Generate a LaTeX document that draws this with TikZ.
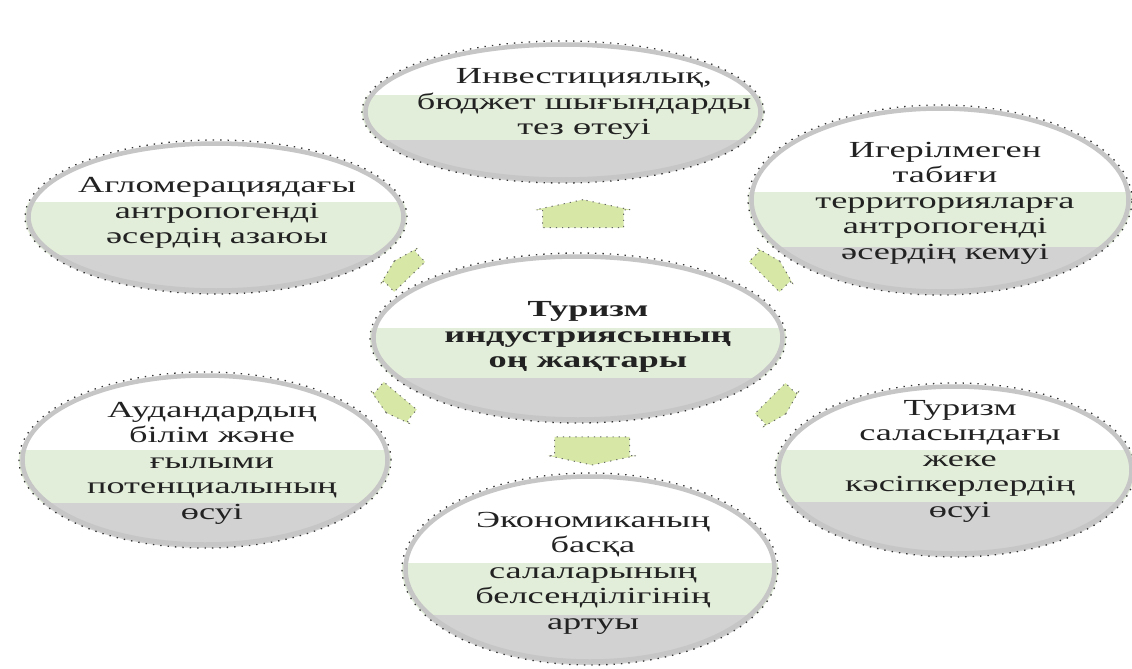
\documentclass[tikz,border=0pt]{standalone}
\usepackage{fontspec}
\newfontfamily\kz[FakeStretch=1.58]{Liberation Serif}
\usetikzlibrary{shapes.geometric,shapes.arrows}
\definecolor{bandgreen}{HTML}{E3EEDA}
\definecolor{bandgray}{HTML}{D2D2D2}
\definecolor{arrowgreen}{HTML}{D7E8A6}
\definecolor{ringgray}{HTML}{C6C6C6}
\definecolor{txtcol}{HTML}{222222}
\tikzset{
  bubbleshape/.style={ellipse, inner sep=0pt, outer sep=0pt, draw=black!80,
    line width=1.3pt, dash pattern=on 1.4pt off 6pt},
  txt/.style={font=\kz\fontsize{23}{25.5}\selectfont, align=center, text=txtcol, inner sep=0pt},
  conn/.style={single arrow, fill=arrowgreen, draw=black!60, line width=1pt,
    dash pattern=on 1.2pt off 5pt, inner xsep=0pt, outer sep=0pt},
  bigconn/.style={conn, inner ysep=40pt, single arrow head extend=7pt,
    single arrow tip angle=156, minimum height=28pt},
  smallconn/.style={conn, inner ysep=21pt, single arrow head extend=5pt,
    single arrow tip angle=150, minimum height=22pt}
}
% name, cx, cy, rx, ry, green top, gray top
\newcommand\mybubble[7]{%
  \begin{scope}
    \clip (#2,#3) ellipse [x radius=#4, y radius=#5];
    \fill[white] (#2-#4,#3-#5) rectangle (#2+#4,#3+#5);
    \fill[bandgreen] (#2-#4,#6) rectangle (#2+#4,#7);
    \fill[bandgray] (#2-#4,#7) rectangle (#2+#4,#3+#5);
  \end{scope}
  \draw[ringgray, line width=4.5pt] (#2,#3) ellipse [x radius=#4-3.5, y radius=#5-3.5];
  \node[bubbleshape, minimum width=2*#4, minimum height=2*#5] (#1) at (#2,#3) {};
}
\begin{document}
\begin{tikzpicture}[x=1pt,y=-1pt]
\useasboundingbox (0,0) rectangle (1132,669);
\fill[white] (0,0) rectangle (1132,669);

\mybubble{top}{563}{112}{201}{71}{95}{140}
\mybubble{ul}{216}{217}{191}{77}{202}{255}
\mybubble{ur}{940}{200}{192}{95}{192}{247}
\mybubble{mid}{578}{338}{208}{85}{328}{378}
\mybubble{ll}{205}{460}{186}{88}{450}{503}
\mybubble{lr}{955}{470}{180}{87}{450}{502}
\mybubble{bot}{590}{569}{188}{96}{563}{615}

\node[txt] (ttop) at (584,104) {Инвестициялық,\\бюджет шығындарды\\тез өтеуі};
\node[txt] (tul) at (217,213) {Агломерациядағы\\антропогенді\\әсердің азаюы};
\node[txt] (tur) at (945,203) {Игерілмеген\\табиғи\\территорияларға\\антропогенді\\әсердің кемуі};
\node[txt, font=\kz\bfseries\fontsize{23}{25.5}\selectfont] (tmid) at (588,337) {Туризм\\индустриясының\\оң жақтары};
\node[txt] (tll) at (212,463) {Аудандардың\\білім және\\ғылыми\\потенциалының\\өсуі};
\node[txt] (tlr) at (960,461) {Туризм\\саласындағы\\жеке\\кәсіпкерлердің\\өсуі};
\node[txt] (tbot) at (593,573) {Экономиканың\\басқа\\салаларының\\белсенділігінің\\артуы};

\node[bigconn, rotate=90] (a1) at (583,218) {};
\node[bigconn, rotate=270, inner ysep=37pt] (a6) at (592,447) {};
\node[smallconn, rotate=134] (a2) at (404,271) {};
\node[smallconn, rotate=230] (a3) at (395,402) {};
\node[smallconn, rotate=45] (a4) at (770,271) {};
\node[smallconn, rotate=315] (a5) at (776,404) {};
\end{tikzpicture}
\end{document}
